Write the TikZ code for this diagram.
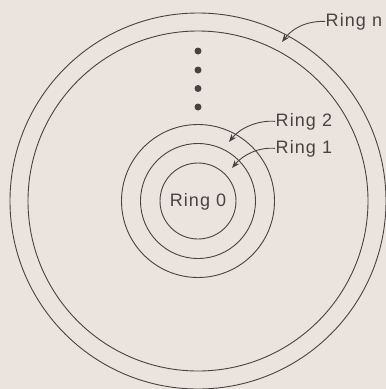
\documentclass[tikz,border=0pt]{standalone}
\usepackage{fontspec}
\setmainfont[LetterSpace=6]{Liberation Sans}
\usetikzlibrary{arrows.meta}
\definecolor{bgc}{HTML}{EBE4DE}
\definecolor{ink}{HTML}{4A423E}
\tikzset{
  ring/.style={draw=ink, line width=0.9pt},
  lbl/.style={text=ink, font=\fontsize{18}{20}\selectfont, inner sep=0.5pt, anchor=base west},
  pointer/.style={draw=ink, line width=0.9pt, -{Stealth[length=8pt,width=6pt,inset=2.5pt]}},
  dotc/.style={fill=ink, circle, inner sep=0pt, minimum size=7pt}
}
\begin{document}
\begin{tikzpicture}[x=1pt,y=-1pt]
\fill[bgc] (0,0) rectangle (386,389);
\useasboundingbox (0,0) rectangle (386,389);
\coordinate (c) at (198,201);
\draw[ring] (c) circle[radius=188];
\draw[ring] (c) circle[radius=170];
\draw[ring] (c) circle[radius=76.5];
\draw[ring] (c) circle[radius=57.5];
\draw[ring] (c) circle[radius=38];
\node[dotc] (d1) at (198,51) {};
\node[dotc] (d2) at (198,70) {};
\node[dotc] (d3) at (198,88.5) {};
\node[dotc] (d4) at (198,107) {};
\node[text=ink, font=\fontsize{18}{20}\selectfont] (r0) at (198,202) {Ring 0};
\node[lbl] (rn) at (325,26) {Ring n};
\node[lbl] (r2) at (275,126) {Ring 2};
\node[lbl] (r1) at (275,153) {Ring 1};
\coordinate (tn) at (282,42);
\coordinate (t2) at (229,142);
\coordinate (t1) at (232,168);
\draw[pointer] (rn.west) .. controls (305,21) and (292,29) .. (tn);
\draw[pointer] (r2.west) .. controls (258,120) and (240,128) .. (t2);
\draw[pointer] (r1.west) .. controls (258,147) and (243,155) .. (t1);
\end{tikzpicture}
\end{document}
